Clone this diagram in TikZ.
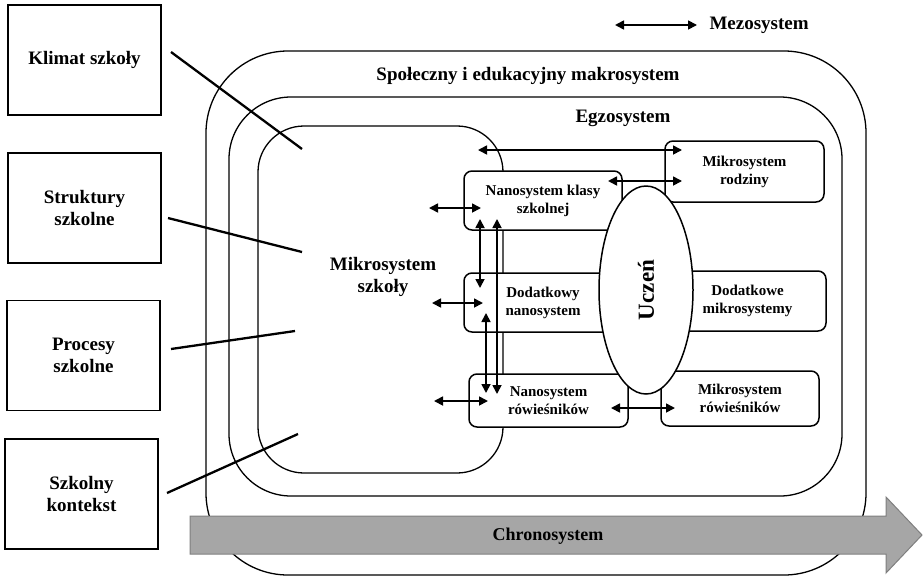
\documentclass[tikz,border=0pt]{standalone}
\usepackage{fontspec}
\setmainfont{Liberation Serif}
\usetikzlibrary{arrows.meta,shapes.geometric}
\definecolor{chronofill}{HTML}{A6A6A6}
\definecolor{chronoedge}{HTML}{7F7F7F}
\begin{document}
\begin{tikzpicture}[x=1pt,y=-1pt,
    bigtext/.style={font=\fontsize{19}{22}\selectfont\bfseries,align=center},
    smalltext/.style={font=\fontsize{15}{18}\selectfont\bfseries,align=center},
    sidebox/.style={draw,line width=1.5pt,bigtext,minimum width=153pt,minimum height=110pt},
    nanobox/.style={draw,fill=white,rounded corners=8pt,line width=1.5pt,smalltext,minimum width=158pt},
    system/.style={line width=1.3pt},
    link/.style={line width=2.3pt},
    meso/.style={{Triangle[length=9pt,width=9pt]}-{Triangle[length=9pt,width=9pt]},line width=1.7pt}]
  \useasboundingbox (0,0) rectangle (923,576);
  \draw[system,rounded corners=82pt] (206,51) rectangle (866,575);
  \draw[system,rounded corners=62pt] (229,97) rectangle (842,496);
  \draw[system,rounded corners=46pt] (258,126) rectangle (503,473);
  \node[bigtext] (makrolabel) at (528,76) {Społeczny i edukacyjny makrosystem};
  \node[bigtext] (egzolabel) at (623,118) {Egzosystem};
  \node[bigtext] (mikrolabel) at (383,277) {Mikrosystem\\szkoły};

  \node[sidebox] (klimat) at (84.5,60) {Klimat szkoły};
  \node[sidebox] (struktury) at (84.5,208) {Struktury\\szkolne};
  \node[sidebox] (procesy) at (83.5,355.5) {Procesy\\szkolne};
  \node[sidebox] (kontekst) at (81.5,494) {Szkolny\\kontekst};
  \coordinate (klimat-a) at (171,52);
  \coordinate (klimat-b) at (302,149);
  \coordinate (struktury-a) at (168,218);
  \coordinate (struktury-b) at (302,252);
  \coordinate (procesy-a) at (171,349);
  \coordinate (procesy-b) at (295,331);
  \coordinate (kontekst-a) at (167,493);
  \coordinate (kontekst-b) at (298,434);
  \begin{scope}[link]
    \draw (klimat-a) -- (klimat-b);
    \draw (struktury-a) -- (struktury-b);
    \draw (procesy-a) -- (procesy-b);
    \draw (kontekst-a) -- (kontekst-b);
  \end{scope}

  \node[nanobox,minimum height=59pt] (klasy) at (543,200.5) {Nanosystem klasy\\szkolnej};
  \node[nanobox,minimum width=159pt,minimum height=61pt] (rodziny) at (744.5,171.5) {Mikrosystem\\rodziny};
  \node[nanobox,minimum height=59pt] (dodatkowy) at (543,302.5) {Dodatkowy\\nanosystem};
  \node[nanobox,minimum width=157pt,minimum height=60pt] (dodatkowe) at (747.5,301) {Dodatkowe\\mikrosystemy};
  \node[nanobox,minimum width=159pt,minimum height=53pt] (rowiesnicy) at (548.5,400.5) {Nanosystem\\rówieśników};
  \node[nanobox,minimum height=55pt] (rowiesnicymikro) at (740,398.5) {Mikrosystem\\rówieśników};
  \node[draw,ellipse,fill=white,line width=1.5pt,rotate=90,inner sep=0pt,
        minimum width=208pt,minimum height=94pt,
        font=\fontsize{23}{26}\selectfont\bfseries] (uczen) at (646,290) {Uczeń};

  \coordinate (m1) at (478,150);
  \coordinate (r1) at (682,150);
  \coordinate (k2) at (608,181);
  \coordinate (r2) at (682,181);
  \coordinate (l1) at (429,208);
  \coordinate (k1) at (481,208);
  \coordinate (l2) at (432,303);
  \coordinate (d1) at (483,303);
  \coordinate (l3) at (434,401);
  \coordinate (n1) at (488,401);
  \coordinate (k3) at (480,219);
  \coordinate (d2) at (480,288);
  \coordinate (k4) at (497,219);
  \coordinate (n2) at (497,394);
  \coordinate (d3) at (486,313);
  \coordinate (n3) at (486,393);
  \coordinate (n4) at (611,408);
  \coordinate (p1) at (675,408);
  \coordinate (lg1) at (615,25);
  \coordinate (lg2) at (697,25);
  \begin{scope}[meso]
    \draw (m1) -- (r1);
    \draw (k2) -- (r2);
    \draw (l1) -- (k1);
    \draw (l2) -- (d1);
    \draw (l3) -- (n1);
    \draw (k3) -- (d2);
    \draw (k4) -- (n2);
    \draw (d3) -- (n3);
    \draw (n4) -- (p1);
    \draw (lg1) -- (lg2);
  \end{scope}
  \node[bigtext,anchor=west] (mezolabel) at (706,25) {Mezosystem};

  \draw[fill=chronofill,draw=chronoedge,line width=1pt]
    (190,516) -- (886,516) -- (886,497) -- (922,535) -- (886,573) -- (886,554) -- (190,554) -- cycle;
  \node[font=\fontsize{18}{20}\selectfont\bfseries] (chronolabel) at (548,536) {Chronosystem};
\end{tikzpicture}
\end{document}
